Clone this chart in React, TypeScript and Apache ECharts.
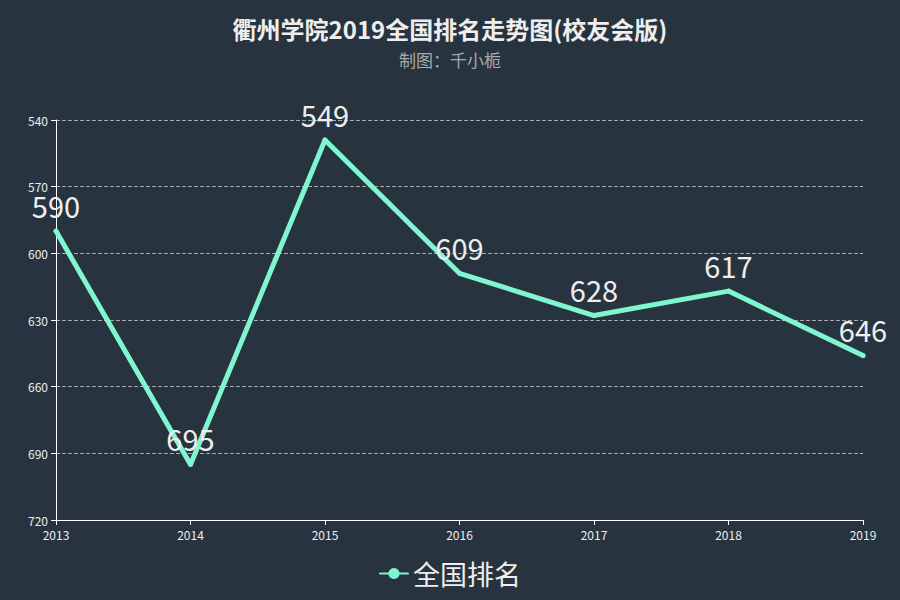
import React, { useEffect, useRef } from "react";
import * as echarts from "echarts";

const years = ["2013", "2014", "2015", "2016", "2017", "2018", "2019"];
const ranks = [590, 695, 549, 609, 628, 617, 646];
const titleText = "衢州学院2019全国排名走势图(校友会版)";
const subText = "制图：千小栀";
const seriesName = "全国排名";

export default function App() {
  const ref = useRef<HTMLDivElement>(null);
  useEffect(() => {
    const chart = echarts.init(ref.current!, null, { renderer: "svg" });
    chart.setOption({
      animation: false,
      backgroundColor: "#27333f",
      textStyle: { fontFamily: "Noto Sans CJK SC" },
      title: {
        text: titleText,
        subtext: subText,
        left: "center",
        top: 11,
        itemGap: 11,
        textStyle: { color: "#eeeeee", fontSize: 24, fontWeight: "bold" },
        subtextStyle: { color: "#aaaaaa", fontSize: 17 },
      },
      legend: {
        bottom: 8,
        left: "center",
        itemWidth: 28,
        itemHeight: 14,
        itemGap: 6,
        textStyle: { color: "#eeeeee", fontSize: 27 },
        data: [seriesName],
      },
      grid: { left: 56, right: 37, top: 120, bottom: 80 },
      xAxis: {
        type: "category",
        data: years,
        boundaryGap: false,
        axisLine: { lineStyle: { color: "#ffffff" } },
        axisTick: { alignWithLabel: true, lineStyle: { color: "#ffffff" } },
        axisLabel: { color: "#eeeeee", fontSize: 12 },
      },
      yAxis: {
        type: "value",
        inverse: true,
        min: 540,
        max: 720,
        interval: 30,
        axisLine: { show: true, lineStyle: { color: "#ffffff" } },
        axisTick: { show: true, lineStyle: { color: "#ffffff" } },
        axisLabel: { color: "#eeeeee", fontSize: 12 },
        splitLine: { lineStyle: { color: "#aaaaaa", type: "dashed" } },
      },
      series: [
        {
          name: seriesName,
          type: "line",
          data: ranks,
          symbol: "circle",
          symbolSize: 5,
          itemStyle: { color: "#7ff5d0" },
          lineStyle: { color: "#7ff5d0", width: 5, cap: "round", join: "round" },
          label: { show: true, position: "top", color: "#eeeeee", fontSize: 29, lineHeight: 22, distance: 13 },
        },
      ],
    });
    return () => chart.dispose();
  }, []);
  return <div ref={ref} style={{ position: "fixed", left: 0, top: 0, width: 900, height: 600 }} />;
}
